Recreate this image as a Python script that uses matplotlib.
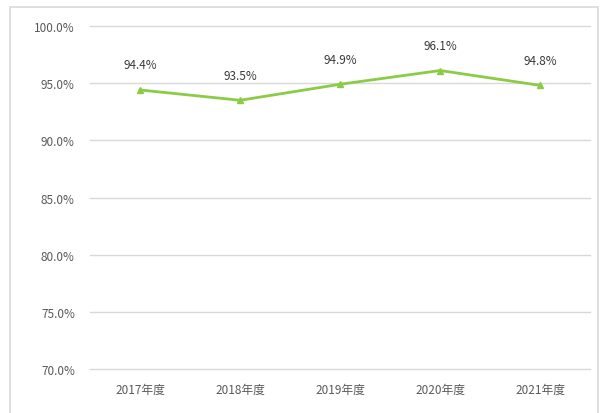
import matplotlib
matplotlib.use("Agg")
import matplotlib.pyplot as plt
from matplotlib.patches import Rectangle

plt.rcParams['font.family'] = ['Noto Sans CJK SC', 'DejaVu Sans']

years = ['2017年度', '2018年度', '2019年度', '2020年度', '2021年度']
rates = [94.4, 93.5, 94.9, 96.1, 94.8]
yticks = [70, 75, 80, 85, 90, 95, 100]

fig = plt.figure(figsize=(6.01, 4.14), dpi=100)
# outer chart border
fig.patches.append(Rectangle((10 / 601, -0.05), 588 / 601, 1 - 8 / 414 + 0.05,
                             transform=fig.transFigure, fill=False,
                             edgecolor='#D9D9D9', linewidth=1.2))

ax = fig.add_axes([0.15, 0.106, 0.832, 0.829])
x = list(range(len(years)))
ax.plot(x, rates, color='#8CCB45', linewidth=2, marker='^', markersize=5,
        markerfacecolor='#8CCB45', markeredgecolor='#8CCB45')

for xi, v in zip(x, rates):
    ax.text(xi, v + 2.2, f'{v:.1f}%', ha='center', va='center',
            fontsize=8.5, color='#3A3A3A', fontweight='medium')

ax.set_xlim(-0.5, len(years) - 0.5)
ax.set_ylim(70, 100)
ax.set_yticks(yticks)
ax.set_yticklabels([f'{t:.1f}%' for t in yticks])
ax.set_xticks(x)
ax.set_xticklabels(years)
ax.tick_params(axis='both', length=0, labelsize=8.5, labelcolor='#595959')
ax.tick_params(axis='y', pad=11)
ax.tick_params(axis='x', pad=10)
ax.grid(axis='y', color='#D9D9D9', linewidth=1)
for gl in ax.get_ygridlines():
    gl.set_clip_on(False)
ax.set_axisbelow(True)
for s in ax.spines.values():
    s.set_visible(False)

fig.savefig('out.png', dpi=100)
